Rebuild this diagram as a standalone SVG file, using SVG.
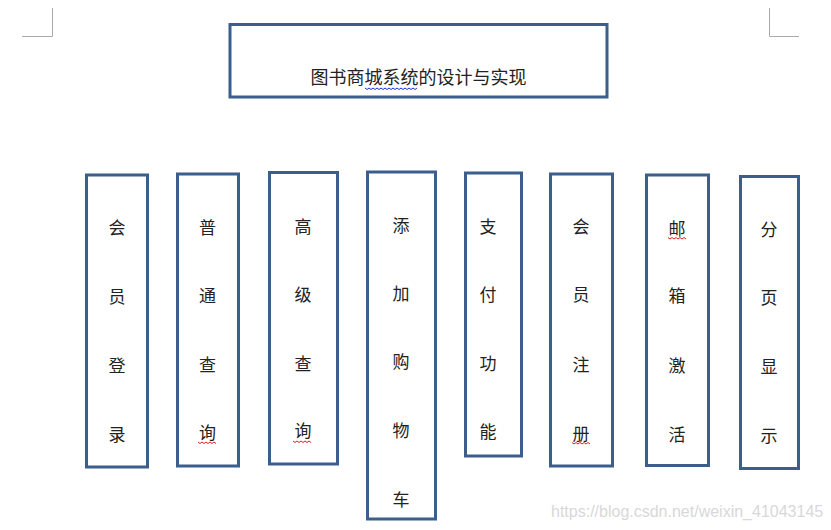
<svg xmlns="http://www.w3.org/2000/svg" width="831" height="530" viewBox="0 0 831 530">
<style>
.box{fill:#fff;stroke:#3b5e8c;stroke-width:3}
.t{font-family:"Liberation Serif","Noto Sans CJK SC",serif;font-size:17px;fill:#222;text-anchor:middle;dominant-baseline:central}
.mark{fill:none;stroke:#aaa;stroke-width:1}
.wr{fill:none;stroke:#e02020;stroke-width:1}
.wb{fill:none;stroke:#2030e0;stroke-width:1}
</style>
<rect width="831" height="530" fill="#fff"/>
<path class="mark" d="M52.5,8 V36.5 H22 M769.5,8 V36.5 H799"/>
<g id="title">
<rect class="box" x="230" y="24.5" width="377" height="72.5"/>
<text class="t" x="418.5" y="78" style="font-size:18px">图书商城系统的设计与实现</text>
<path class="wb" d="M365,88 l2,1.5 l2,-1.5 l2,1.5 l2,-1.5 l2,1.5 l2,-1.5 l2,1.5 l2,-1.5 l2,1.5 l2,-1.5 l2,1.5 l2,-1.5 l2,1.5 l2,-1.5 l2,1.5 l2,-1.5 l2,1.5 l2,-1.5 l2,1.5 l2,-1.5 l2,1.5 l2,-1.5 l2,1.5 l2,-1.5 l2,1.5 l2,-1.5"/>
</g>
<g id="n1">
<rect class="box" x="86.5" y="175" width="61" height="292"/>
<text class="t" x="117" y="228">会</text><text class="t" x="117" y="297">员</text><text class="t" x="117" y="366">登</text><text class="t" x="117" y="435">录</text>
</g>
<g id="n2">
<rect class="box" x="177.5" y="174" width="61" height="292"/>
<text class="t" x="207.5" y="228">普</text><text class="t" x="207.5" y="296">通</text><text class="t" x="207.5" y="365">查</text><text class="t" x="207.5" y="433">询</text>
<path class="wr" d="M198,442 l2,1.5 l2,-1.5 l2,1.5 l2,-1.5 l2,1.5 l2,-1.5 l2,1.5 l2,-1.5 l2,1.5"/>
</g>
<g id="n3">
<rect class="box" x="269.5" y="172.5" width="68" height="291.5"/>
<text class="t" x="303" y="227.5">高</text><text class="t" x="303" y="295.5">级</text><text class="t" x="303" y="364">查</text><text class="t" x="303" y="431.5">询</text>
<path class="wr" d="M293,441 l2,1.5 l2,-1.5 l2,1.5 l2,-1.5 l2,1.5 l2,-1.5 l2,1.5 l2,-1.5 l2,1.5"/>
</g>
<g id="n4">
<rect class="box" x="367.5" y="172" width="68" height="347"/>
<text class="t" x="401" y="226">添</text><text class="t" x="401" y="294">加</text><text class="t" x="401" y="362.5">购</text><text class="t" x="401" y="431.5">物</text><text class="t" x="401" y="500">车</text>
</g>
<g id="n5">
<rect class="box" x="465.5" y="173" width="56" height="283"/>
<text class="t" x="488" y="227">支</text><text class="t" x="488" y="295">付</text><text class="t" x="488" y="364">功</text><text class="t" x="488" y="432.5">能</text>
</g>
<g id="n6">
<rect class="box" x="550.5" y="174" width="62" height="292"/>
<text class="t" x="581" y="227.5">会</text><text class="t" x="581" y="295.5">员</text><text class="t" x="581" y="365">注</text><text class="t" x="581" y="434">册</text>
<path class="wr" d="M572,442.5 l2,1.5 l2,-1.5 l2,1.5 l2,-1.5 l2,1.5 l2,-1.5 l2,1.5 l2,-1.5 l2,1.5"/>
</g>
<g id="n7">
<rect class="box" x="646.5" y="175" width="62" height="290.5"/>
<text class="t" x="677" y="229">邮</text><text class="t" x="677" y="296.5">箱</text><text class="t" x="677" y="366">激</text><text class="t" x="677" y="435">活</text>
<path class="wr" d="M668,237.5 l2,1.5 l2,-1.5 l2,1.5 l2,-1.5 l2,1.5 l2,-1.5 l2,1.5 l2,-1.5 l2,1.5"/>
</g>
<g id="n8">
<rect class="box" x="740.5" y="176.5" width="58" height="292"/>
<text class="t" x="769" y="230.5">分</text><text class="t" x="769" y="298">页</text><text class="t" x="769" y="367">显</text><text class="t" x="769" y="436.5">示</text>
</g>
<g id="connectors"></g>
<text x="551" y="517" style="font-family:'Liberation Sans',Arial,sans-serif;font-size:16px;fill:#d8d8d8">https://blog.csdn.net/weixin_41043145</text>
</svg>
